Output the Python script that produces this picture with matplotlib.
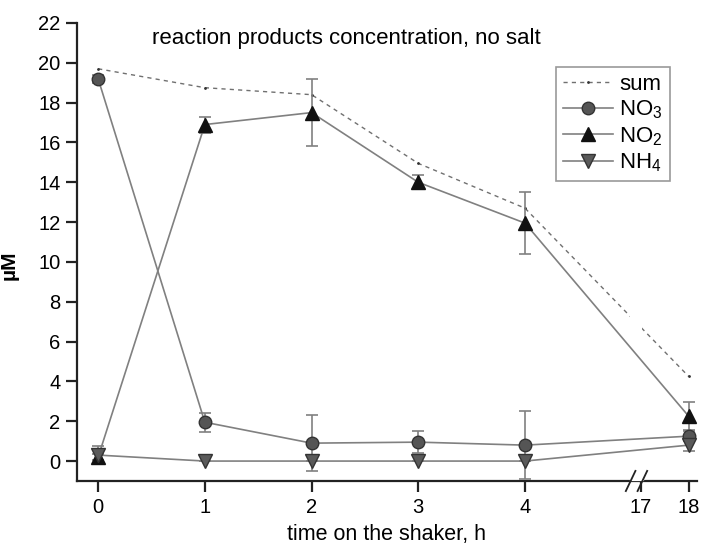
import numpy as np
import matplotlib
matplotlib.use("Agg")
import matplotlib.pyplot as plt

plt.rcParams['font.family'] = ['Liberation Sans', 'DejaVu Sans']
plt.rcParams['mathtext.default'] = 'regular'

# data
times = [0, 1, 2, 3, 4, 18]
sum_conc = [19.7, 18.75, 18.4, 14.95, 12.7, 4.25]
no3 = [19.2, 1.95, 0.9, 0.95, 0.8, 1.25]
no3_err = [0.2, 0.47, 1.4, 0.55, 1.7, 0.25]
no2 = [0.2, 16.9, 17.5, 14.0, 11.95, 2.25]
no2_err = [0.15, 0.4, 1.7, 0.35, 1.55, 0.7]
nh4 = [0.3, 0.0, 0.0, 0.0, 0.0, 0.8]
nh4_err = [0.45, 0.0, 0.0, 0.0, 0.0, 0.3]
xticks = [0, 1, 2, 3, 4, 17, 18]
labels = ['sum', 'NO$_3$', 'NO$_2$', 'NH$_4$']


def xpos(t):
    # broken x axis: 0..4 linear, then 17..18 on a compressed segment
    t = np.asarray(t, dtype=float)
    return np.where(t <= 4, t, 5.084 + (t - 17) * 0.45)


fig = plt.figure(figsize=(7.01, 5.5), dpi=100)
ax = fig.add_axes([0.110, 0.1255, 0.884, 0.8327])

line_c = '#808080'
err_kw = dict(color=line_c, lw=1.2, ecolor=line_c, elinewidth=1.2,
              capsize=4, capthick=1.2, zorder=3)
h_sum, = ax.plot(xpos(times), sum_conc, linestyle=(0, (3, 3)), color='#707070',
                 lw=1, marker='.', ms=2, mfc='#333333', mec='#333333', zorder=2)
e1 = ax.errorbar(xpos(times), no3, yerr=no3_err, marker='o', ms=9,
                 mfc='#555555', mec='#333333', **err_kw)
e2 = ax.errorbar(xpos(times), no2, yerr=no2_err, marker='^', ms=10,
                 mfc='#111111', mec='#111111', **err_kw)
e3 = ax.errorbar(xpos(times), nh4, yerr=nh4_err, marker='v', ms=10,
                 mfc='#5a5a5a', mec='#333333', **err_kw)

# gap in the lines at the axis break
ax.axvspan(4.981, 5.094, ymin=0.004, ymax=1, color='white', lw=0, zorder=2.6)

ax.set_xlim(-0.197, 5.61)
ax.set_ylim(-1, 22)
ax.set_xticks(xpos(xticks))
ax.set_xticklabels([str(t) for t in xticks])
ax.set_yticks(np.arange(0, 23, 2))

for s in ['top', 'right']:
    ax.spines[s].set_visible(False)
for s in ['left', 'bottom']:
    ax.spines[s].set_linewidth(1.6)
    ax.spines[s].set_color('#222222')
ax.tick_params(direction='out', length=8, width=1.6, color='#222222',
               labelsize=14.5, pad=4)

# break marks on the x axis
tr = ax.get_xaxis_transform()
ax.plot([5.0, 5.1], [0.004, 0.004], color='white', lw=3, transform=tr,
        clip_on=False, zorder=5)
for c in [4.99, 5.1]:
    ax.plot([c - 0.045, c + 0.045], [-0.022, 0.022], color='#222222', lw=1.3,
            transform=tr, clip_on=False, zorder=6)

ax.text(0.121, 0.967, 'reaction products concentration, no salt',
        transform=ax.transAxes, fontsize=16, ha='left', va='center')

ax.set_xlabel('time on the shaker, h', fontsize=15.5)
ax.xaxis.set_label_coords(0.5, -0.095)
ax.set_ylabel('µM', fontsize=15, fontweight='bold')
ax.yaxis.set_label_coords(-0.095, 0.47)

leg = ax.legend([h_sum, e1[0], e2[0], e3[0]], labels,
                loc='upper left', bbox_to_anchor=(0.773, 0.904), borderaxespad=0,
                fontsize=16, frameon=True, fancybox=False, handlelength=2.25,
                handletextpad=0.3, labelspacing=0.18, borderpad=0.3)
leg.get_frame().set_edgecolor('#808080')
leg.get_frame().set_linewidth(1.2)

fig.savefig('out.png', dpi=100)
